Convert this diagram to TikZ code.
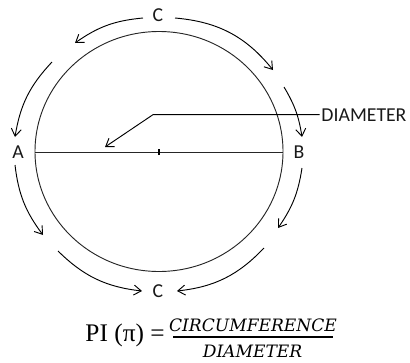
\documentclass[tikz,border=0pt]{standalone}
\usepackage{fontspec}
\usetikzlibrary{arrows.meta}
\newfontfamily\labfont{Carlito}
\newfontfamily\formfont{Liberation Serif}
\newfontfamily\fracfont{DejaVu Serif}
\begin{document}
\begin{tikzpicture}[x=0.75pt,y=0.75pt,line width=0.7pt,
  lab/.style={inner sep=0pt,text=black!90,font=\labfont\fontsize{14.8}{17}\selectfont},
  frm/.style={inner sep=0pt,font=\formfont\fontsize{19}{22}\selectfont},
  frmi/.style={inner sep=0pt,font=\fracfont\itshape\fontsize{12.8}{14}\selectfont},
  arr/.style={-{Straight Barb[length=5.5pt,width=7.5pt]}},
  circ/.style={draw=black!85}]
\useasboundingbox (0,0) rectangle (410,362);
\coordinate (O) at (159,210.5);
\draw[circ] (O) ellipse [x radius=124, y radius=120];
\coordinate (dl) at (35,210);
\coordinate (dr) at (283,210);
\draw[circ] (dl) -- (dr);
\coordinate (t1) at (159,207);
\coordinate (t2) at (159,213);
\draw[line width=1.2pt] (t1) -- (t2);
% labels
\node[lab,anchor=base] (A) at (18,204) {A};
\node[lab,anchor=base] (B) at (299,204) {B};
\node[lab,anchor=base] (Ct) at (158,341) {C};
\node[lab,anchor=base] (Cb) at (158,65) {C};
\node[lab,anchor=base west] (D) at (321,241) {DIAMETER};
% pointer
\coordinate (p1) at (153,248);
\coordinate (p2) at (105,215);
\draw[arr] ([xshift=-1]D.west) -- (D.west -| p1) -- (p2);
% outer arcs
\coordinate (s1) at (143,344); \coordinate (e1) at (75,319);
\coordinate (s2) at (175,344); \coordinate (e2) at (273,292);
\coordinate (s3) at (52,300);  \coordinate (e3) at (15,225);
\coordinate (s4) at (284,275); \coordinate (e4) at (302,225);
\coordinate (s5) at (15,197);  \coordinate (e5) at (43,127);
\coordinate (s6) at (302,194); \coordinate (e6) at (278,134);
\coordinate (s7) at (58,111);  \coordinate (e7) at (142,71);
\coordinate (s8) at (264,114); \coordinate (e8) at (177,71);
\draw[arr] (s1) to[bend right=15] (e1);
\draw[arr] (s2) to[bend left=23] (e2);
\draw[arr] (s3) to[bend right=17] (e3);
\draw[arr] (s4) to[bend left=11] (e4);
\draw[arr] (s5) to[bend right=15] (e5);
\draw[arr] (s6) to[bend left=13] (e6);
\draw[arr] (s7) to[bend right=19] (e7);
\draw[arr] (s8) to[bend left=20] (e8);
% formula
\node[frm,anchor=base west] (PI) at (85,21) {PI (π) =};
\node[frmi,anchor=base] (num) at (253,31) {CIRCUMFERENCE};
\node[frmi,anchor=base] (den) at (252.5,4.5) {DIAMETER};
\coordinate (bl) at (173,25);
\coordinate (br) at (333,25);
\draw[line width=1.1pt] (bl) -- (br);
\end{tikzpicture}
\end{document}
